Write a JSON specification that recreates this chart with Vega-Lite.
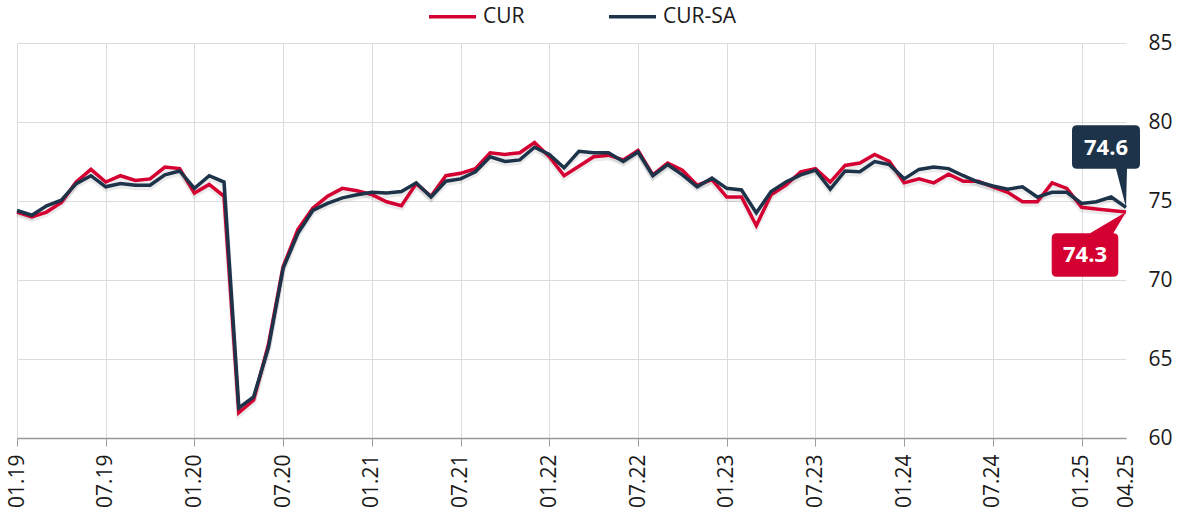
{
  "$schema": "https://vega.github.io/schema/vega-lite/v6.json",
  "width": 1109,
  "height": 395,
  "autosize": {"type": "none"},
  "padding": {"left": 17, "top": 43, "right": 58, "bottom": 78},
  "background": "white",
  "config": {"view": {"stroke": null}, "font": "Open Sans"},
  "data": {"values": [
    {"m": "01.19", "CUR": 74.3, "CUR-SA": 74.4},
    {"m": "02.19", "CUR": 74.0, "CUR-SA": 74.1},
    {"m": "03.19", "CUR": 74.3, "CUR-SA": 74.7},
    {"m": "04.19", "CUR": 74.9, "CUR-SA": 75.05},
    {"m": "05.19", "CUR": 76.2, "CUR-SA": 76.1},
    {"m": "06.19", "CUR": 77.0, "CUR-SA": 76.6},
    {"m": "07.19", "CUR": 76.2, "CUR-SA": 75.9},
    {"m": "08.19", "CUR": 76.6, "CUR-SA": 76.1},
    {"m": "09.19", "CUR": 76.3, "CUR-SA": 76.0},
    {"m": "10.19", "CUR": 76.4, "CUR-SA": 76.0},
    {"m": "11.19", "CUR": 77.15, "CUR-SA": 76.65},
    {"m": "12.19", "CUR": 77.05, "CUR-SA": 76.9},
    {"m": "01.20", "CUR": 75.5, "CUR-SA": 75.8},
    {"m": "02.20", "CUR": 76.05, "CUR-SA": 76.6},
    {"m": "03.20", "CUR": 75.3, "CUR-SA": 76.2},
    {"m": "04.20", "CUR": 61.6, "CUR-SA": 61.9},
    {"m": "05.20", "CUR": 62.4, "CUR-SA": 62.6},
    {"m": "06.20", "CUR": 65.9, "CUR-SA": 65.7},
    {"m": "07.20", "CUR": 70.85, "CUR-SA": 70.75},
    {"m": "08.20", "CUR": 73.2, "CUR-SA": 72.95},
    {"m": "09.20", "CUR": 74.55, "CUR-SA": 74.4},
    {"m": "10.20", "CUR": 75.3, "CUR-SA": 74.85},
    {"m": "11.20", "CUR": 75.8, "CUR-SA": 75.2},
    {"m": "12.20", "CUR": 75.65, "CUR-SA": 75.4},
    {"m": "01.21", "CUR": 75.4, "CUR-SA": 75.55},
    {"m": "02.21", "CUR": 74.95, "CUR-SA": 75.5},
    {"m": "03.21", "CUR": 74.7, "CUR-SA": 75.6},
    {"m": "04.21", "CUR": 76.1, "CUR-SA": 76.15},
    {"m": "05.21", "CUR": 75.3, "CUR-SA": 75.25},
    {"m": "06.21", "CUR": 76.6, "CUR-SA": 76.25},
    {"m": "07.21", "CUR": 76.75, "CUR-SA": 76.4},
    {"m": "08.21", "CUR": 77.05, "CUR-SA": 76.85},
    {"m": "09.21", "CUR": 78.05, "CUR-SA": 77.8},
    {"m": "10.21", "CUR": 77.95, "CUR-SA": 77.5},
    {"m": "11.21", "CUR": 78.05, "CUR-SA": 77.6},
    {"m": "12.21", "CUR": 78.7, "CUR-SA": 78.4},
    {"m": "01.22", "CUR": 77.8, "CUR-SA": 77.95},
    {"m": "02.22", "CUR": 76.6, "CUR-SA": 77.1},
    {"m": "03.22", "CUR": 77.2, "CUR-SA": 78.15},
    {"m": "04.22", "CUR": 77.8, "CUR-SA": 78.05},
    {"m": "05.22", "CUR": 77.9, "CUR-SA": 78.05},
    {"m": "06.22", "CUR": 77.6, "CUR-SA": 77.5},
    {"m": "07.22", "CUR": 78.2, "CUR-SA": 78.1},
    {"m": "08.22", "CUR": 76.65, "CUR-SA": 76.6},
    {"m": "09.22", "CUR": 77.4, "CUR-SA": 77.3},
    {"m": "10.22", "CUR": 76.95, "CUR-SA": 76.65},
    {"m": "11.22", "CUR": 76.0, "CUR-SA": 75.9},
    {"m": "12.22", "CUR": 76.35, "CUR-SA": 76.45},
    {"m": "01.23", "CUR": 75.25, "CUR-SA": 75.8},
    {"m": "02.23", "CUR": 75.25, "CUR-SA": 75.7},
    {"m": "03.23", "CUR": 73.45, "CUR-SA": 74.25},
    {"m": "04.23", "CUR": 75.4, "CUR-SA": 75.6},
    {"m": "05.23", "CUR": 76.0, "CUR-SA": 76.2},
    {"m": "06.23", "CUR": 76.85, "CUR-SA": 76.65},
    {"m": "07.23", "CUR": 77.05, "CUR-SA": 76.95},
    {"m": "08.23", "CUR": 76.2, "CUR-SA": 75.75},
    {"m": "09.23", "CUR": 77.25, "CUR-SA": 76.9},
    {"m": "10.23", "CUR": 77.4, "CUR-SA": 76.85},
    {"m": "11.23", "CUR": 77.95, "CUR-SA": 77.5},
    {"m": "12.23", "CUR": 77.5, "CUR-SA": 77.3},
    {"m": "01.24", "CUR": 76.15, "CUR-SA": 76.4},
    {"m": "02.24", "CUR": 76.4, "CUR-SA": 77.0},
    {"m": "03.24", "CUR": 76.15, "CUR-SA": 77.15},
    {"m": "04.24", "CUR": 76.7, "CUR-SA": 77.05},
    {"m": "05.24", "CUR": 76.25, "CUR-SA": 76.6},
    {"m": "06.24", "CUR": 76.25, "CUR-SA": 76.2},
    {"m": "07.24", "CUR": 75.9, "CUR-SA": 75.95},
    {"m": "08.24", "CUR": 75.55, "CUR-SA": 75.75},
    {"m": "09.24", "CUR": 74.95, "CUR-SA": 75.9},
    {"m": "10.24", "CUR": 74.95, "CUR-SA": 75.25},
    {"m": "11.24", "CUR": 76.15, "CUR-SA": 75.55},
    {"m": "12.24", "CUR": 75.8, "CUR-SA": 75.55},
    {"m": "01.25", "CUR": 74.6, "CUR-SA": 74.85},
    {"m": "02.25", "CUR": 74.5, "CUR-SA": 74.95},
    {"m": "03.25", "CUR": 74.4, "CUR-SA": 75.25},
    {"m": "04.25", "CUR": 74.3, "CUR-SA": 74.6}
  ]},
  "transform": [{"fold": ["CUR", "CUR-SA"], "as": ["series", "value"]}],
  "encoding": {
    "x": {
      "field": "m", "type": "ordinal", "sort": null,
      "scale": {"type": "point", "padding": 0},
      "axis": {
        "title": null,
        "values": ["01.19","07.19","01.20","07.20","01.21","07.21","01.22","07.22","01.23","07.23","01.24","07.24","01.25","04.25"],
        "labelAngle": -90,
        "labelFont": "Open Sans",
        "labelFontSize": 21,
        "labelColor": "#1a1a1a",
        "labelPadding": 8,
        "tickSize": 8,
        "tickColor": {"condition": {"test": "datum.value === '04.25'", "value": "transparent"}, "value": "#999999"},
        "domainColor": "#999999",
        "domainWidth": 1.5,
        "grid": true,
        "gridColor": {"condition": {"test": "datum.value === '04.25'", "value": "transparent"}, "value": "#dcdcdc"}
      }
    },
    "y": {
      "field": "value", "type": "quantitative",
      "scale": {"domain": [60, 85], "nice": false, "zero": false},
      "axis": {
        "title": null,
        "orient": "right",
        "values": [60, 65, 70, 75, 80, 85],
        "ticks": false,
        "domain": false,
        "labelPadding": 22,
        "labelFont": "Open Sans",
        "labelFontSize": 21,
        "labelColor": "#1a1a1a",
        "gridColor": "#dcdcdc"
      }
    }
  },
  "layer": [
    {
      "mark": {"type": "line", "strokeWidth": 5, "color": "#000000", "opacity": 0.08, "yOffset": 2.5, "strokeJoin": "miter"},
      "encoding": {"detail": {"field": "series", "type": "nominal"}}
    },
    {
      "mark": {"type": "line", "strokeWidth": 3.5, "strokeJoin": "miter"},
      "encoding": {
        "color": {
          "field": "series", "type": "nominal",
          "scale": {"domain": ["CUR", "CUR-SA"], "range": ["#d50032", "#1d3349"]},
          "legend": {
            "title": null,
            "orient": "none",
            "legendX": 410,
            "legendY": -52,
            "direction": "horizontal",
            "symbolType": "stroke",
            "symbolSize": 2209,
            "symbolStrokeWidth": 3.5,
            "labelFont": "Open Sans",
            "labelFontSize": 21,
            "labelColor": "#1a1a1a",
            "labelOffset": 5,
            "columnPadding": 77
          }
        }
      }
    },
    {
      "transform": [{"filter": "datum.m === '04.25' && datum.series === 'CUR-SA'"}],
      "mark": {
        "type": "point", "filled": true, "opacity": 1, "strokeWidth": 0, "fill": "#1d3349", "size": 400,
        "shape": "M -4.9 -8.2 L 0.9 -8.2 Q 1.4 -8.2 1.4 -7.7 L 1.4 -4.35 Q 1.4 -3.85 0.9 -3.85 L 0.1 -3.85 L 0 0 L -1 -3.85 L -4.9 -3.85 Q -5.4 -3.85 -5.4 -4.35 L -5.4 -7.7 Q -5.4 -8.2 -4.9 -8.2 Z"
      }
    },
    {
      "transform": [{"filter": "datum.m === '04.25' && datum.series === 'CUR'"}],
      "mark": {
        "type": "point", "filled": true, "opacity": 1, "strokeWidth": 0, "fill": "#d50032", "size": 400,
        "shape": "M -6.93 2.13 L -3.6 2.13 L 0 0 L -1.27 2.13 Q -0.77 2.13 -0.77 2.63 L -0.77 5.97 Q -0.77 6.47 -1.27 6.47 L -6.93 6.47 Q -7.43 6.47 -7.43 5.97 L -7.43 2.63 Q -7.43 2.13 -6.93 2.13 Z"
      }
    },
    {
      "transform": [{"filter": "datum.m === '04.25' && datum.series === 'CUR-SA'"}],
      "mark": {"type": "text", "dx": -20, "dy": -59, "font": "Open Sans", "fontSize": 22, "fontWeight": "bold", "color": "white", "align": "center", "baseline": "middle"},
      "encoding": {"text": {"field": "value", "type": "quantitative", "format": ".1f"}}
    },
    {
      "transform": [{"filter": "datum.m === '04.25' && datum.series === 'CUR'"}],
      "mark": {"type": "text", "dx": -41, "dy": 43, "font": "Open Sans", "fontSize": 22, "fontWeight": "bold", "color": "white", "align": "center", "baseline": "middle"},
      "encoding": {"text": {"field": "value", "type": "quantitative", "format": ".1f"}}
    }
  ]
}
